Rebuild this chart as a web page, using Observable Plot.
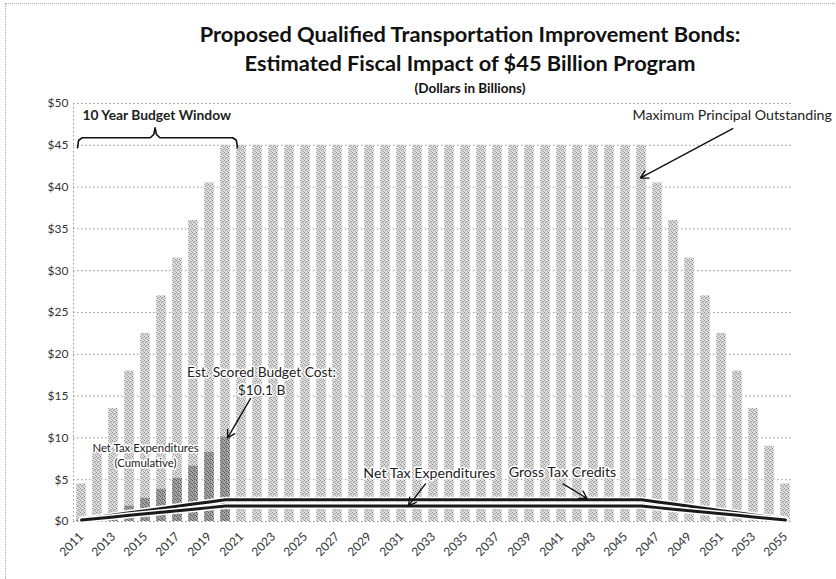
<!DOCTYPE html>
<html><head><meta charset="utf-8">
<script src="https://cdn.jsdelivr.net/npm/d3@7"></script>
<script src="https://cdn.jsdelivr.net/npm/@observablehq/plot@0.6"></script>
<style>
body{margin:0;background:#fff;}
#wrap{position:relative;width:836px;height:579px;overflow:hidden;font-family:Lato,"Open Sans",sans-serif;}
#frame{position:absolute;left:5px;top:3px;width:900px;height:700px;border:1px dotted #aaa;}
.t{position:absolute;left:0;width:940px;text-align:center;font-weight:bold;color:#111;white-space:nowrap;}
#chart{position:absolute;left:0;top:0;}
</style></head><body>
<div id="wrap">
<div id="frame"></div>
<div id="chart"></div>
<div class="t" style="top:20px;font-size:21.8px;">Proposed Qualified Transportation Improvement Bonds:</div>
<div class="t" style="top:49px;font-size:21.8px;">Estimated Fiscal Impact of $45 Billion Program</div>
<div class="t" style="top:80px;font-size:13.5px;">(Dollars in Billions)</div>
</div>
<script>
const years = [2011,2012,2013,2014,2015,2016,2017,2018,2019,2020,2021,2022,2023,2024,2025,2026,2027,2028,2029,2030,2031,2032,2033,2034,2035,2036,2037,2038,2039,2040,2041,2042,2043,2044,2045,2046,2047,2048,2049,2050,2051,2052,2053,2054,2055];
const principal = [4.5,9,13.5,18,22.5,27,31.5,36,40.5,45,45,45,45,45,45,45,45,45,45,45,45,45,45,45,45,45,45,45,45,45,45,45,45,45,45,45,40.5,36,31.5,27,22.5,18,13.5,9,4.5];
const grossCredits = [0.26,0.52,0.78,1.04,1.3,1.56,1.82,2.08,2.34,2.6,2.6,2.6,2.6,2.6,2.6,2.6,2.6,2.6,2.6,2.6,2.6,2.6,2.6,2.6,2.6,2.6,2.6,2.6,2.6,2.6,2.6,2.6,2.6,2.6,2.6,2.6,2.34,2.08,1.82,1.56,1.3,1.04,0.78,0.52,0.26];
const netExpend = [0.18,0.37,0.55,0.74,0.92,1.1,1.29,1.47,1.66,1.84,1.84,1.84,1.84,1.84,1.84,1.84,1.84,1.84,1.84,1.84,1.84,1.84,1.84,1.84,1.84,1.84,1.84,1.84,1.84,1.84,1.84,1.84,1.84,1.84,1.84,1.84,1.66,1.47,1.29,1.1,0.92,0.74,0.55,0.37,0.18];
const cumYears = [2011,2012,2013,2014,2015,2016,2017,2018,2019,2020];
const cumNet = [0.18,0.55,1.1,1.84,2.76,3.86,5.15,6.62,8.28,10.1];
const xTicks = [2011,2013,2015,2017,2019,2021,2023,2025,2027,2029,2031,2033,2035,2037,2039,2041,2043,2045,2047,2049,2051,2053,2055];
const yTicks = [0,5,10,15,20,25,30,35,40,45,50];

// annotations (data coordinates)
const labels = [
  {x:2011.06, y:48.6, text:"10 Year Budget Window", anchor:"start", size:13.8, weight:"bold"},
  {x:2057.9, y:48.6, text:"Maximum Principal Outstanding", anchor:"end", size:14.2, weight:"normal"},
  {x:2022.25, y:17.8, text:"Est. Scored Budget Cost:", anchor:"middle", size:13.8, weight:"normal"},
  {x:2022.25, y:15.7, text:"$10.1 B", anchor:"middle", size:13.8, weight:"normal"},
  {x:2015.0, y:8.7, text:"Net Tax Expenditures", anchor:"middle", size:11.4, weight:"normal"},
  {x:2015.0, y:6.9, text:"(Cumulative)", anchor:"middle", size:11.4, weight:"normal"},
  {x:2032.75, y:5.7, text:"Net Tax Expenditures", anchor:"middle", size:14.2, weight:"normal"},
  {x:2041.06, y:5.9, text:"Gross Tax Credits", anchor:"middle", size:14.2, weight:"normal"}
];
const arrows = [
  {x1:2051.7, y1:47.0, x2:2045.94, y2:41.1},
  {x1:2021.56, y1:14.7, x2:2020.13, y2:10.0},
  {x1:2032.5, y1:4.5, x2:2031.44, y2:1.9},
  {x1:2041.1, y1:4.5, x2:2042.6, y2:2.75}
];
const bracketX = [2010.75,2010.82,2011.05,2015.3,2015.52,2015.6,2015.68,2015.9,2020.45,2020.68,2020.75];
const bracketY = [44.7,45.6,45.9,45.9,46.3,47.1,46.3,45.9,45.9,45.6,44.7];

const table = years.map((year, i) => ({year, principal: principal[i], gross: grossCredits[i], net: netExpend[i]}));
const cumTable = cumYears.map((year, i) => ({year, value: cumNet[i]}));
const bracket = bracketX.map((x, i) => ({x, y: bracketY[i]}));

const textMarks = ["start", "middle", "end"].flatMap(anchor => ["bold", "normal"].map(weight =>
  Plot.text(labels.filter(d => d.anchor === anchor && d.weight === weight), {
    x: "x", y: "y", text: "text", textAnchor: anchor, fontWeight: weight, fontSize: d => d.size,
    fill: "#222", stroke: "white", strokeWidth: 3, paintOrder: "stroke"
  })));

const plot = Plot.plot({
  width: 836,
  height: 579,
  marginTop: 103,
  marginBottom: 58,
  marginLeft: 73,
  marginRight: 43,
  style: {fontFamily: "Lato, 'Open Sans', sans-serif", fontSize: "12px", color: "#333", background: "transparent", overflow: "visible"},
  x: {domain: [2010.5, 2055.5]},
  y: {domain: [0, 50]},
  marks: [
    Plot.gridY(yTicks, {stroke: "#888", strokeOpacity: 0.9, strokeDasharray: "1.5,2.5"}),
    Plot.ruleX([2010.5], {stroke: "#999", strokeDasharray: "1.5,2.5"}),
    Plot.rectY(table, {x1: d => d.year - 0.5, x2: d => d.year + 0.5, y1: 0, y2: "principal", insetLeft: 3.2, insetRight: 3.2, fill: "url(#lightPat)"}),
    Plot.rectY(cumTable, {x1: d => d.year - 0.5, x2: d => d.year + 0.5, y1: 0, y2: "value", insetLeft: 3.2, insetRight: 3.2, fill: "url(#darkPat)"}),
    Plot.line(table, {x: "year", y: "gross", stroke: "white", strokeWidth: 6}),
    Plot.line(table, {x: "year", y: "gross", stroke: "#1a1a1a", strokeWidth: 3}),
    Plot.line(table, {x: "year", y: "net", stroke: "white", strokeWidth: 6}),
    Plot.line(table, {x: "year", y: "net", stroke: "#1a1a1a", strokeWidth: 3}),
    Plot.line(bracket, {x: "x", y: "y", stroke: "#111", strokeWidth: 1.6, curve: "linear"}),
    Plot.arrow(arrows, {x1: "x1", y1: "y1", x2: "x2", y2: "y2", stroke: "#111", strokeWidth: 1.4, headLength: 9, bend: 0}),
    ...textMarks,
    Plot.axisY(yTicks, {tickSize: 0, tickPadding: 5, tickFormat: d => `$${d}`, label: null, fontSize: 12, fill: "#333"}),
    Plot.axisX(xTicks, {tickSize: 0, tickPadding: 13, tickRotate: -45, tickFormat: d => String(d), label: null, fontSize: 12, fill: "#333"})
  ]
});

const defs = document.createElementNS("http://www.w3.org/2000/svg", "defs");
defs.innerHTML = `
<pattern id="lightPat" width="4" height="4" patternUnits="userSpaceOnUse">
  <rect width="4" height="4" fill="#dcdcdc"/>
  <rect x="0" y="0" width="1" height="1" fill="#8c8c8c"/>
  <rect x="2" y="1" width="1" height="1" fill="#9a9a9a"/>
  <rect x="1" y="2" width="1" height="1" fill="#8c8c8c"/>
  <rect x="3" y="3" width="1" height="1" fill="#a0a0a0"/>
  <rect x="3" y="1" width="1" height="1" fill="#bdbdbd"/>
</pattern>
<pattern id="darkPat" width="4" height="4" patternUnits="userSpaceOnUse">
  <rect width="4" height="4" fill="#a4a4a4"/>
  <rect x="0" y="0" width="1" height="1" fill="#555"/>
  <rect x="2" y="1" width="1" height="1" fill="#666"/>
  <rect x="1" y="2" width="1" height="1" fill="#555"/>
  <rect x="3" y="3" width="1" height="1" fill="#6a6a6a"/>
  <rect x="2" y="3" width="1" height="1" fill="#777"/>
</pattern>`;
plot.insertBefore(defs, plot.firstChild);
document.getElementById("chart").appendChild(plot);
</script>
</body></html>
